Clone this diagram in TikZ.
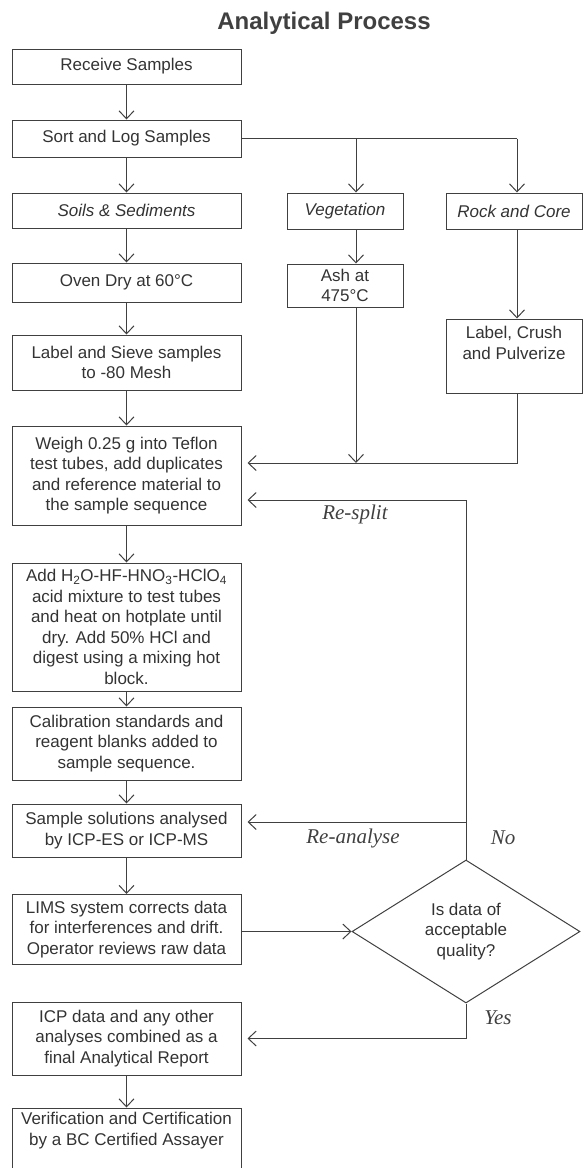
\documentclass[tikz,border=0pt]{standalone}
\usepackage{fontspec}
\setmainfont{Liberation Sans}
\newfontfamily\notefont{Liberation Serif}
\usetikzlibrary{arrows.meta, shapes.geometric, positioning}

\begin{document}
\begin{tikzpicture}[x=1pt, y=-1pt,
                    box/.style={draw=black!75, line width=1pt, minimum width=229pt, inner sep=1pt, align=center, text=black!80, font=\fontsize{17}{20.5}\selectfont},
                    link/.style={draw=black!75, line width=1pt},
                    arr/.style={link, -{Straight Barb[length=8pt, width=15pt, line width=1pt]}},
                    back/.style={arr, shorten >=6pt},
                    note/.style={font=\notefont\itshape\fontsize{21}{24}\selectfont, text=black!75}]

                    \useasboundingbox (0, 0) rectangle (583, 1168);

                    \node[text=black!75] (title) at (324, 23) {\fontsize{24}{28}\selectfont\bfseries Analytical Process};

                    \node[box, minimum height=35pt] (recv) at (126.5, 66.5) {Receive Samples};
                    \node[box, minimum height=37pt] (sortlog) at (126.5, 138.5) {Sort and Log Samples};
                    \node[box, minimum height=35pt] (soils) at (126.5, 210.5) {\itshape Soils \& Sediments};
                    \node[box, minimum height=39pt] (ovendry) at (126.5, 282.5) {Oven Dry at 60°C};
                    \node[box, minimum height=55pt] (sieve) at (126.5, 362.5) {Label and Sieve samples\\to -80 Mesh};
                    \node[box, minimum height=99pt] (weigh) at (126.5, 475.5) {Weigh 0.25 g into Teflon\\test tubes, add duplicates\\and reference material to\\the sample sequence};
                    \node[box, minimum height=128pt] (digest) at (126.5, 627) {Add H\textsubscript{2}O-HF-HNO\textsubscript{3}-HClO\textsubscript{4}\\acid mixture to test tubes\\and heat on hotplate until\\dry. Add 50\% HCl and\\digest using a mixing hot\\block.};
                    \node[box, minimum height=73pt] (calib) at (126.5, 743.5) {Calibration standards and\\reagent blanks added to\\sample sequence.};
                    \node[box, minimum height=53pt] (icp) at (126.5, 830.5) {Sample solutions analysed\\by ICP-ES or ICP-MS};
                    \node[box, minimum height=70pt] (lims) at (126.5, 929.5) {LIMS system corrects data\\for interferences and drift.\\Operator reviews raw data};
                    \node[box, minimum height=73pt] (report) at (126.5, 1038.5) {ICP data and any other\\analyses combined as a\\final Analytical Report};
                    \node[box, minimum height=68pt] (verify) at (126.5, 1142) {Verification and Certification\\by a BC Certified Assayer\\\strut};

                    \node[box, minimum width=116pt, minimum height=36pt] (veg) at (345, 211) {\itshape Vegetation};
                    \node[box, minimum width=116pt, minimum height=43pt] (ash) at (345, 285.5) {Ash at\\475°C};
                    \node[box, minimum width=136pt, minimum height=36pt] (rock) at (514, 211) {\itshape Rock and Core};
                    \node[box, minimum width=136pt, minimum height=74pt] (crush) at (514, 356) {Label, Crush\\and Pulverize\\\strut};

                    \node[box, shape=diamond, minimum width=228pt, minimum height=143pt, inner sep=0pt] (check) at (466, 931.5) {Is data of\\acceptable\\quality?};

                    \coordinate (j2) at (356, 138.5);
                    \coordinate (j3) at (517, 138.5);
                    \coordinate (merge) at ([yshift=12.5pt]weigh.east);
                    \coordinate (resplit) at ([yshift=-24.5pt]weigh.east);
                    \coordinate (reanl) at ([yshift=8.5pt]icp.east);

                    \draw[arr] (recv) -- (sortlog);
                    \draw[arr] (sortlog) -- (soils);
                    \draw[arr] (soils) -- (ovendry);
                    \draw[arr] (ovendry) -- (sieve);
                    \draw[arr] (sieve) -- (weigh);
                    \draw[arr] (weigh) -- (digest);
                    \draw[arr] (digest) -- (calib);
                    \draw[arr] (calib) -- (icp);
                    \draw[arr] (icp) -- (lims);
                    \draw[arr] (report) -- (verify);

                    \draw[link] (sortlog.east) -- (j3);
                    \draw[arr] (j2) -- (j2 |- veg.north);
                    \draw[arr] (j3) -- (j3 |- rock.north);
                    \draw[arr] (veg.south -| j2) -- (ash.north -| j2);
                    \draw[arr] (rock.south -| j3) -- (crush.north -| j3);
                    \draw[back] (crush.south -| j3) |- (merge);
                    \draw[arr] (ash.south -| j2) -- (j2 |- merge);

                    \draw[arr] (lims.east |- check.west) -- (check.west);
                    \draw[back] (check.north) |- (resplit);
                    \draw[back] (check.north |- reanl) -- (reanl);
                    \draw[back] (check.south) |- (report.east);

                    \node[note] (splitnote) at (355, 514) {Re-split};
                    \node[note] (analysenote) at (353, 838) {Re-analyse};
                    \node[note] (nonote) at (503, 838) {No};
                    \node[note] (yesnote) at (498, 1018) {Yes};
                \end{tikzpicture}
\end{document}
